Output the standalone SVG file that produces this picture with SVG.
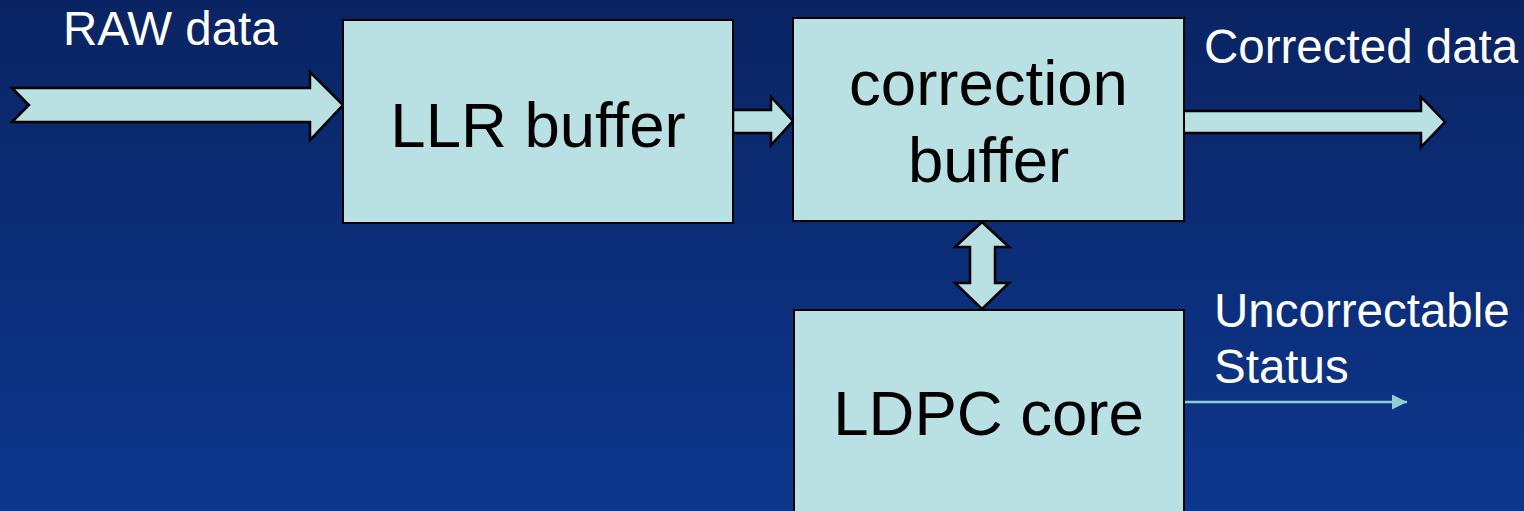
<svg xmlns="http://www.w3.org/2000/svg" width="1524" height="511" viewBox="0 0 1524 511">
  <defs>
    <linearGradient id="bg" x1="0" y1="0" x2="0" y2="1">
      <stop offset="0" stop-color="#0a2463"/>
      <stop offset="1" stop-color="#0d378d"/>
    </linearGradient>
    <marker id="thinHead" markerWidth="16" markerHeight="16" refX="15" refY="7.5" orient="auto" markerUnits="userSpaceOnUse">
      <path d="M0,0 L15,7.5 L0,15 Z" fill="#8fcfd3"/>
    </marker>
  </defs>
  <style>
    .box { fill: #b9e0e3; stroke: #000; stroke-width: 2; }
    .flow { fill: #b9e0e3; stroke: #000; stroke-width: 2.5; stroke-linejoin: miter; }
    .label { font-family: "Liberation Sans", Arial, sans-serif; fill: #000; font-size: 63.5px; text-anchor: middle; }
    .note { font-family: "Liberation Sans", Arial, sans-serif; fill: #fff; font-size: 47.5px; }
  </style>

  <rect x="0" y="0" width="1524" height="511" fill="url(#bg)"/>

  <!-- connectors -->
  <g id="connectors">
    <!-- raw data input (notched arrow) -->
    <path class="flow" d="M12,88 L310,88 L310,72 L343,105 L310,140 L310,122 L12,122 L29,105 Z"/>
    <!-- LLR buffer to correction buffer -->
    <path class="flow" d="M733,110 L771,110 L771,97 L793,121 L771,145 L771,133 L733,133 Z"/>
    <!-- correction buffer <-> LDPC core -->
    <path class="flow" d="M982,222 L1009,247 L995,247 L995,283 L1009,283 L982,309 L955,283 L970,283 L970,247 L955,247 Z"/>
    <!-- corrected data output -->
    <path class="flow" d="M1183,111 L1421,111 L1421,97 L1445,122 L1421,147 L1421,133 L1183,133 Z"/>
    <!-- uncorrectable status -->
    <line x1="1184" y1="402" x2="1407" y2="402" stroke="#8fcfd3" stroke-width="2.5" marker-end="url(#thinHead)"/>
  </g>

  <g id="llr-buffer">
    <rect class="box" x="343" y="20" width="390" height="203"/>
    <text class="label" x="538" y="147">LLR buffer</text>
  </g>

  <g id="correction-buffer">
    <rect class="box" x="793" y="18" width="391" height="203"/>
    <text class="label" x="988.5" y="105">correction</text>
    <text class="label" x="988.5" y="182">buffer</text>
  </g>

  <g id="ldpc-core">
    <rect class="box" x="794" y="310" width="390" height="215"/>
    <text class="label" x="988.5" y="435">LDPC core</text>
  </g>

  <g id="labels">
    <text class="note" x="63" y="45">RAW data</text>
    <text class="note" x="1204" y="63">Corrected data</text>
    <text class="note" x="1214" y="327">Uncorrectable</text>
    <text class="note" x="1214" y="383">Status</text>
  </g>
</svg>
